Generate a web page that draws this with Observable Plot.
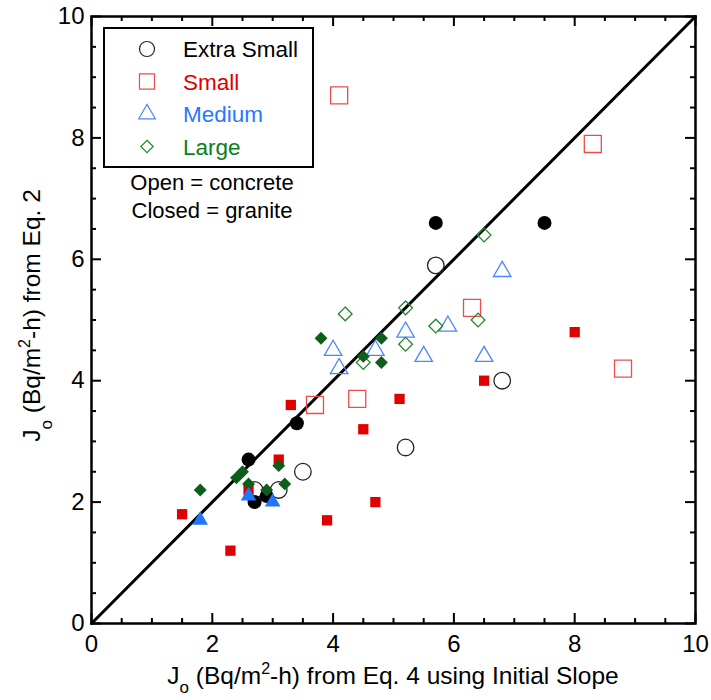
<!DOCTYPE html>
<html><head><meta charset="utf-8">
<script src="https://cdn.jsdelivr.net/npm/d3@7"></script>
<script src="https://cdn.jsdelivr.net/npm/@observablehq/plot@0.6"></script>
<style>
body{margin:0;background:#fff;}
#chart{width:711px;height:700px;}
</style></head><body><div id="chart"></div>
<script>
// ---- data ----
const categories = ["Extra Small", "Small", "Medium", "Large"];
const symbolNames = ["circle", "square", "triangle", "diamond2"];
// open = concrete, closed = granite ; [x (Eq. 4 initial slope), y (Eq. 2)]
const extraSmallConcrete = [[2.7,2.2],[3.1,2.2],[3.5,2.5],[5.2,2.9],[5.7,5.9],[6.8,4.0]];
const extraSmallGranite  = [[2.6,2.7],[2.7,2.0],[2.9,2.1],[3.4,3.3],[5.7,6.6],[7.5,6.6]];
const smallConcrete  = [[3.7,3.6],[4.1,8.7],[4.4,3.7],[6.3,5.2],[8.3,7.9],[8.8,4.2]];
const smallGranite   = [[1.5,1.8],[2.3,1.2],[2.6,2.2],[3.1,2.7],[3.3,3.6],[3.9,1.7],[4.5,3.2],[4.7,2.0],[5.1,3.7],[6.5,4.0],[8.0,4.8]];
const mediumConcrete = [[4.0,4.5],[4.1,4.2],[4.7,4.5],[5.2,4.8],[5.5,4.4],[5.9,4.9],[6.5,4.4],[6.8,5.8]];
const mediumGranite  = [[1.8,1.7],[2.6,2.1],[3.0,2.0]];
const largeConcrete  = [[4.2,5.1],[4.5,4.3],[5.2,4.6],[5.2,5.2],[5.7,4.9],[6.4,5.0],[6.5,6.4]];
const largeGranite   = [[1.8,2.2],[2.4,2.4],[2.5,2.5],[2.6,2.3],[2.9,2.2],[3.1,2.6],[3.2,2.3],[3.8,4.7],[4.5,4.4],[4.8,4.7],[4.8,4.3]];
const oneToOne = [0, 10];
const majorTicks = [0, 2, 4, 6, 8, 10];
const minorTicks = [0.5,1,1.5,2.5,3,3.5,4.5,5,5.5,6.5,7,7.5,8.5,9,9.5];
const noteLines = ["Open = concrete", "Closed = granite"];

// ---- styles ----
const openColors   = ["#222222", "#ee4b4b", "#4a86ff", "#22892a"];
const filledColors = ["#000000", "#e00000", "#2275ff", "#0c5e1a"];
const textColors   = ["#000000", "#e00000", "#2a77ff", "#0c7d1a"];
const openR   = [8.3, 9.6, 6.5, 6.2];
const filledR = [7, 5.8, 5.8, 5.8];
const concrete = [extraSmallConcrete, smallConcrete, mediumConcrete, largeConcrete];
const granite  = [extraSmallGranite, smallGranite, mediumGranite, largeGranite];

const W = 711, H = 700, mL = 91, mR = 16, mT = 16, mB = 77;
const fW = W - mL - mR, fH = H - mT - mB;
const narrow = "'Liberation Sans Narrow', 'Arial Narrow', 'Liberation Sans', Arial, sans-serif";
const regular = "'Liberation Sans', Arial, sans-serif";

const marks = [];
// inward ticks on all four sides
const tickDefs = [[majorTicks, 10], [minorTicks, 5]];
for (const [tks, len] of tickDefs) {
  marks.push(Plot.tickX(tks, {x: d => d, insetTop: fH - len, stroke: "black", strokeWidth: 2}));
  marks.push(Plot.tickX(tks, {x: d => d, insetBottom: fH - len, stroke: "black", strokeWidth: 2}));
  marks.push(Plot.tickY(tks, {y: d => d, insetRight: fW - len, stroke: "black", strokeWidth: 2}));
  marks.push(Plot.tickY(tks, {y: d => d, insetLeft: fW - len, stroke: "black", strokeWidth: 2}));
}
marks.push(Plot.line(oneToOne, {x: d => d, y: d => d, stroke: "black", strokeWidth: 3}));
// open markers (concrete)
for (let i = 0; i < categories.length; i++) {
  marks.push(Plot.dot(concrete[i], {x: d => d[0], y: d => d[1], symbol: () => symbolNames[i], r: openR[i],
    fill: "none", stroke: openColors[i], strokeWidth: 1.3}));
}
// filled markers (granite)
for (const i of [0, 1, 3, 2]) {
  marks.push(Plot.dot(granite[i], {x: d => d[0], y: d => d[1], symbol: () => symbolNames[i], r: filledR[i],
    fill: filledColors[i], stroke: "none"}));
}
marks.push(Plot.axisX({ticks: majorTicks, tickSize: 0, tickPadding: 11, fontSize: 24, label: null, fontFamily: narrow}));
marks.push(Plot.axisY({ticks: majorTicks, tickSize: 0, tickPadding: 7, fontSize: 24, label: null, fontFamily: narrow}));
marks.push(Plot.frame({stroke: "black", strokeWidth: 2.5}));

const chart = Plot.plot({
  width: W, height: H,
  marginLeft: mL, marginRight: mR, marginTop: mT, marginBottom: mB,
  x: {domain: [0, 10]},
  y: {domain: [0, 10]},
  symbol: {type: "identity"},
  style: {background: "white", color: "black", fontFamily: narrow, overflow: "visible"},
  marks
});
document.getElementById("chart").appendChild(chart);

// ---- axis titles and legend ----
const svg = d3.select(chart);
const xt = svg.append("text").attr("x", mL + fW / 2).attr("y", 684).attr("text-anchor", "middle")
  .attr("font-family", narrow).attr("font-size", 24.5).attr("fill", "black");
xt.append("tspan").text("J");
xt.append("tspan").attr("dy", 9).attr("font-size", 17).text("o");
xt.append("tspan").attr("dy", -9).text(" (Bq/m");
xt.append("tspan").attr("dy", -10).attr("font-size", 16).text("2");
xt.append("tspan").attr("dy", 10).text("-h) from Eq. 4 using Initial Slope");

const yt = svg.append("text").attr("transform", `translate(40,${mT + fH / 2 - 4}) rotate(-90)`).attr("text-anchor", "middle")
  .attr("font-family", narrow).attr("font-size", 24.5).attr("fill", "black");
yt.append("tspan").text("J");
yt.append("tspan").attr("dy", 12).attr("font-size", 17).text("o");
yt.append("tspan").attr("dy", -12).text(" (Bq/m");
yt.append("tspan").attr("dy", -10).attr("font-size", 16).text("2");
yt.append("tspan").attr("dy", 10).text("-h) from Eq. 2");

const lg = svg.append("g");
lg.append("rect").attr("x", 104).attr("y", 28).attr("width", 209).attr("height", 139)
  .attr("fill", "white").attr("stroke", "black").attr("stroke-width", 2);
const symTypes = [d3.symbolCircle, d3.symbolSquare, d3.symbolTriangle, d3.symbolDiamond2];
const legR = [7.5, 8.5, 6.2, 5.6];
categories.forEach((c, i) => {
  const y = 49 + i * 32.5;
  lg.append("path").attr("transform", `translate(147,${y})`)
    .attr("d", d3.symbol(symTypes[i], Math.PI * legR[i] * legR[i])())
    .attr("fill", "none").attr("stroke", openColors[i]).attr("stroke-width", 1.2);
  lg.append("text").attr("x", 183).attr("y", y).attr("dy", "0.36em").attr("text-anchor", "start")
    .attr("font-family", regular).attr("font-size", 22.5).attr("fill", textColors[i]).text(c);
});
noteLines.forEach((t, i) => {
  svg.append("text").attr("x", 212).attr("y", 182 + i * 28).attr("dy", "0.36em").attr("text-anchor", "middle")
    .attr("font-family", regular).attr("font-size", 22).attr("fill", "black").text(t);
});
</script></body></html>
